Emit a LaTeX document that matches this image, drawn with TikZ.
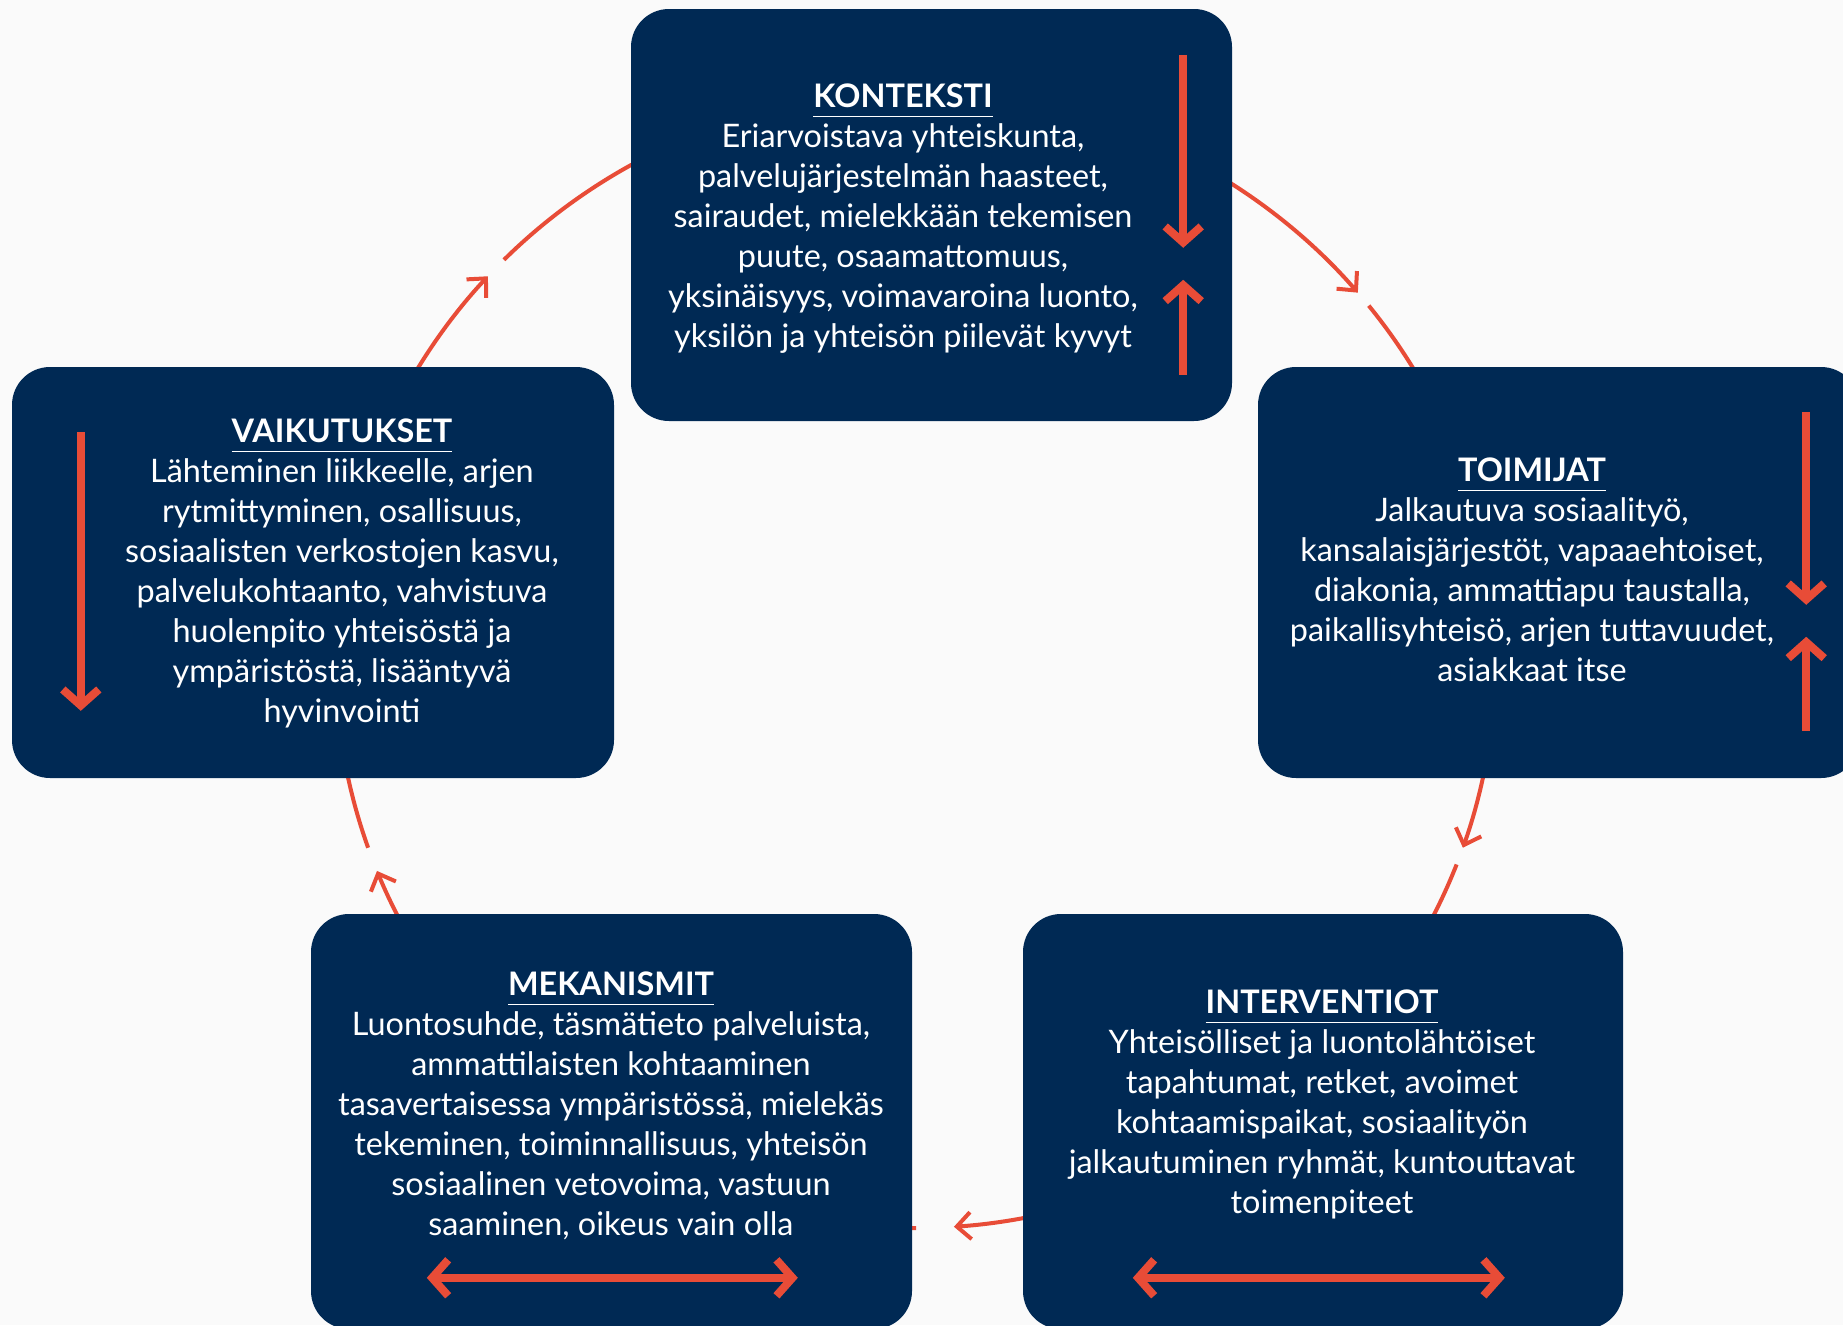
\documentclass[tikz,border=0pt]{standalone}
\usepackage{fontspec}
\setmainfont{Lato}
\usetikzlibrary{arrows.meta,calc}
\definecolor{navy}{RGB}{0,41,84}
\definecolor{accent}{RGB}{232,76,55}
\definecolor{paper}{RGB}{250,250,250}
\pgfdeclarelayer{back}
\pgfdeclarelayer{links}
\pgfsetlayers{back,links,main}
\newcommand{\boxtitle}[1]{\setbox0\hbox{\bfseries #1}\rlap{\rule[-9.5pt]{\wd0}{1.5pt}}\box0}
\begin{document}
\begin{tikzpicture}[x=1pt,y=1pt,
  box/.style={fill=navy, rounded corners=38pt, inner sep=0pt, draw=none},
  txt/.style={align=center, text=white, font=\fontsize{32.4}{40}\selectfont, inner sep=0pt, anchor=north},
  conn/.style={draw=accent, line width=4pt},
  connarrow/.style={conn, -{Straight Barb[length=14pt,width=27pt]}},
  bar/.style={draw=accent, line width=8pt},
  barhead/.style={-{Straight Barb[length=16pt,width=36pt]}},
  barheads/.style={{Straight Barb[length=16pt,width=36pt]}-{Straight Barb[length=16pt,width=36pt]}}
]
\useasboundingbox (0,0) rectangle (1843,-1325);
\begin{pgfonlayer}{back}
\fill[paper] (0,0) rectangle (1843,-1325);
\end{pgfonlayer}
\clip (0,0) rectangle (1843,-1325);

% boxes
\node[box, minimum width=601pt, minimum height=412pt] (kont) at (931.5,-215) {};
\node[box, minimum width=601pt, minimum height=411pt] (toim) at (1558.5,-572.5) {};
\node[box, minimum width=602pt, minimum height=411pt] (vaik) at (313,-572.5) {};
\node[box, minimum width=601pt, minimum height=415pt] (mekan) at (611.5,-1121.5) {};
\node[box, minimum width=600pt, minimum height=415pt] (interv) at (1323,-1121.5) {};

% texts
\node[txt] (kontt) at (903,-81.5) {\rule{0pt}{26pt}\boxtitle{KONTEKSTI}\\
Eriarvoistava yhteiskunta,\\
palvelujärjestelmän haasteet,\\
sairaudet, mielekkään tekemisen\\
puute, osaamattomuus,\\
yksinäisyys, voimavaroina luonto,\\
yksilön ja yhteisön piilevät kyvyt};

\node[txt] (toimt) at (1532,-455.5) {\rule{0pt}{26pt}\boxtitle{TOIMIJAT}\\
Jalkautuva sosiaalityö,\\
kansalaisjärjestöt, vapaaehtoiset,\\
diakonia, ammattiapu taustalla,\\
paikallisyhteisö, arjen tuttavuudet,\\
asiakkaat itse};

\node[txt] (vaikt) at (342,-416.5) {\rule{0pt}{26pt}\boxtitle{VAIKUTUKSET}\\
Lähteminen liikkeelle, arjen\\
rytmittyminen, osallisuus,\\
sosiaalisten verkostojen kasvu,\\
palvelukohtaanto, vahvistuva\\
huolenpito yhteisöstä ja\\
ympäristöstä, lisääntyvä\\
hyvinvointi};

\node[txt] (mekant) at (611,-969.5) {\rule{0pt}{26pt}\boxtitle{MEKANISMIT}\\
Luontosuhde, täsmätieto palveluista,\\
ammattilaisten kohtaaminen\\
tasavertaisessa ympäristössä, mielekäs\\
tekeminen, toiminnallisuus, yhteisön\\
sosiaalinen vetovoima, vastuun\\
saaminen, oikeus vain olla};

\node[txt] (intervt) at (1322,-987.5) {\rule{0pt}{26pt}\boxtitle{INTERVENTIOT}\\
Yhteisölliset ja luontolähtöiset\\
tapahtumat, retket, avoimet\\
kohtaamispaikat, sosiaalityön\\
jalkautuminen ryhmät, kuntouttavat\\
toimenpiteet};

% inner arrows
\draw[bar, barhead] ([shift={(-49,-46)}]kont.north east) -- ([shift={(-49,-239)}]kont.north east);
\draw[bar, barhead] ([shift={(-49,-366)}]kont.north east) -- ([shift={(-49,-271)}]kont.north east);
\draw[bar, barhead] ([shift={(-53,-45)}]toim.north east) -- ([shift={(-53,-238)}]toim.north east);
\draw[bar, barhead] ([shift={(-53,-364)}]toim.north east) -- ([shift={(-53,-270)}]toim.north east);
\draw[bar, barhead] ([shift={(69,-65)}]vaik.north west) -- ([shift={(69,-344)}]vaik.north west);
\draw[bar, barheads] ([shift={(116,-364)}]mekan.north west) -- ([shift={(487,-364)}]mekan.north west);
\draw[bar, barheads] ([shift={(110,-364)}]interv.north west) -- ([shift={(482,-364)}]interv.north west);

% ring connectors
\coordinate (ring) at (915.5,-660);
\coordinate (a1s) at ($(ring)+(151:580pt and 568pt)$);
\coordinate (a1r) at ($(ring)+(135.2:580pt and 568pt)$);
\coordinate (a2s) at ($(ring)+(59:580pt and 568pt)$);
\coordinate (a2r) at ($(ring)+(38.6:580pt and 568pt)$);
\coordinate (a3s) at ($(ring)+(-10:580pt and 568pt)$);
\coordinate (a3r) at ($(ring)+(-21.1:580pt and 568pt)$);
\coordinate (a4s) at ($(ring)+(-77:580pt and 568pt)$);
\coordinate (a4r) at ($(ring)+(-89.95:580pt and 568pt)$);
\coordinate (a5s) at ($(ring)+(209:580pt and 568pt)$);
\coordinate (a5r) at ($(ring)+(199.3:580pt and 568pt)$);
\begin{pgfonlayer}{links}
% VAIKUTUKSET -> KONTEKSTI
\draw[connarrow] (a1s) arc[start angle=151, end angle=137.5, x radius=580pt, y radius=568pt];
\draw[conn] (a1r) arc[start angle=135.2, end angle=117, x radius=580pt, y radius=568pt];
% KONTEKSTI -> TOIMIJAT
\draw[connarrow] (a2s) arc[start angle=59, end angle=40.3, x radius=580pt, y radius=568pt];
\draw[conn] (a2r) arc[start angle=38.6, end angle=29, x radius=580pt, y radius=568pt];
% TOIMIJAT -> INTERVENTIOT
\draw[connarrow] (a3s) arc[start angle=-10, end angle=-19.3, x radius=580pt, y radius=568pt];
\draw[conn] (a3r) arc[start angle=-21.1, end angle=-29, x radius=580pt, y radius=568pt];
% INTERVENTIOT -> MEKANISMIT
\draw[connarrow] (a4s) arc[start angle=-77, end angle=-86.2, x radius=580pt, y radius=568pt];
\draw[conn] (a4r) arc[start angle=-89.95, end angle=-93, x radius=580pt, y radius=568pt];
% MEKANISMIT -> VAIKUTUKSET
\draw[connarrow] (a5s) arc[start angle=209, end angle=201.8, x radius=580pt, y radius=568pt];
\draw[conn] (a5r) arc[start angle=199.3, end angle=190, x radius=580pt, y radius=568pt];
\end{pgfonlayer}
\end{tikzpicture}
\end{document}
